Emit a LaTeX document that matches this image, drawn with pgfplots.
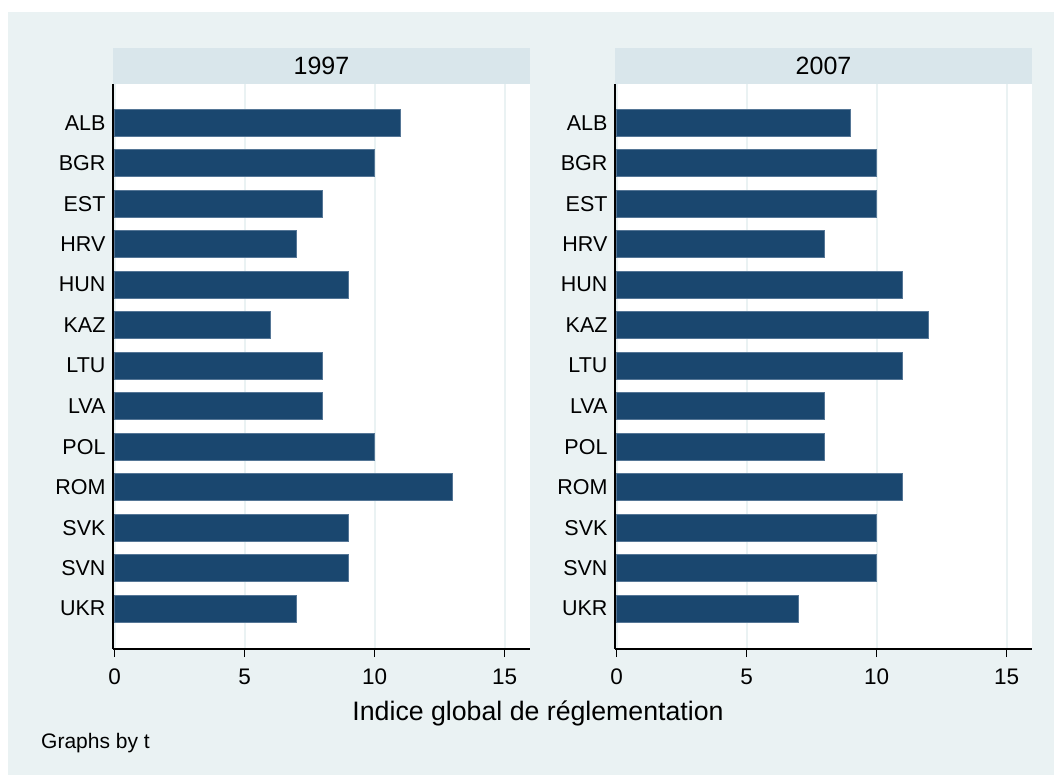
\documentclass[border=0pt]{standalone}
\usepackage{pgfplots}
\pgfplotsset{compat=1.18}
\usepackage{fontspec}
\setmainfont{Liberation Sans}
\definecolor{bg}{RGB}{234,242,243}
\definecolor{strip}{RGB}{217,230,235}
\definecolor{navy}{RGB}{26,71,111}
\definecolor{barline}{RGB}{85,118,150}
\pgfplotsset{
 panel/.style={
  width=417pt, height=565pt, scale only axis,
  xbar, bar width=0.667,
  xmin=-0.06, xmax=15.98, ymin=-0.955, ymax=12.995, y dir=reverse,
  axis background/.style={fill=white},
  axis x line*=bottom, axis y line*=left,
  axis line style={line width=1.7pt, black, -},
  xtick={0,5,10,15}, ytick={0,...,12},
  yticklabels={ALB,BGR,EST,HRV,HUN,KAZ,LTU,LVA,POL,ROM,SVK,SVN,UKR},
  tick align=outside,
  x tick style={line width=1.7pt, black}, major tick length=8pt,
  y tick style={draw=none},
  xmajorgrids, major grid style={line width=2pt, color=bg},
  /pgf/number format/assume math mode=true,
  xticklabel style={font=\fontsize{22.5}{22.5}\selectfont, yshift=-8pt},
  yticklabel style={font=\fontsize{21.5}{21.5}\selectfont, xshift=4pt},
  title style={font=\fontsize{25}{25}\selectfont, fill=strip, minimum width=417pt, minimum height=36pt, inner sep=0pt, anchor=south, at={(0.5,1)}, yshift=-6pt, text depth=0pt},
 }
}
\begin{document}
\begin{tikzpicture}[x=1pt,y=1pt]
\fill[white] (0,0) rectangle (1054,776);
\fill[bg] (8,1) rectangle (1054,764);
\begin{axis}[panel, at={(113pt,692pt)}, anchor=north west, title={1997}]
\addplot[fill=navy, draw=barline, line width=0.6pt] coordinates {
(11,0) (10,1) (8,2) (7,3) (9,4) (6,5) (8,6) (8,7) (10,8) (13,9) (9,10) (9,11) (7,12)};
\end{axis}
\begin{axis}[panel, at={(615pt,692pt)}, anchor=north west, title={2007}]
\addplot[fill=navy, draw=barline, line width=0.6pt] coordinates {
(9,0) (10,1) (10,2) (8,3) (11,4) (12,5) (11,6) (8,7) (8,8) (11,9) (10,10) (10,11) (7,12)};
\end{axis}
\node[font=\fontsize{26.7}{26.7}\selectfont, anchor=base] at (538,56) {Indice global de réglementation};
\node[font=\fontsize{21}{21}\selectfont, anchor=base west, inner sep=0pt] at (41,28) {Graphs by t};
\pgfresetboundingbox
\path (0,0) rectangle (1054,776);
\end{tikzpicture}
\end{document}
